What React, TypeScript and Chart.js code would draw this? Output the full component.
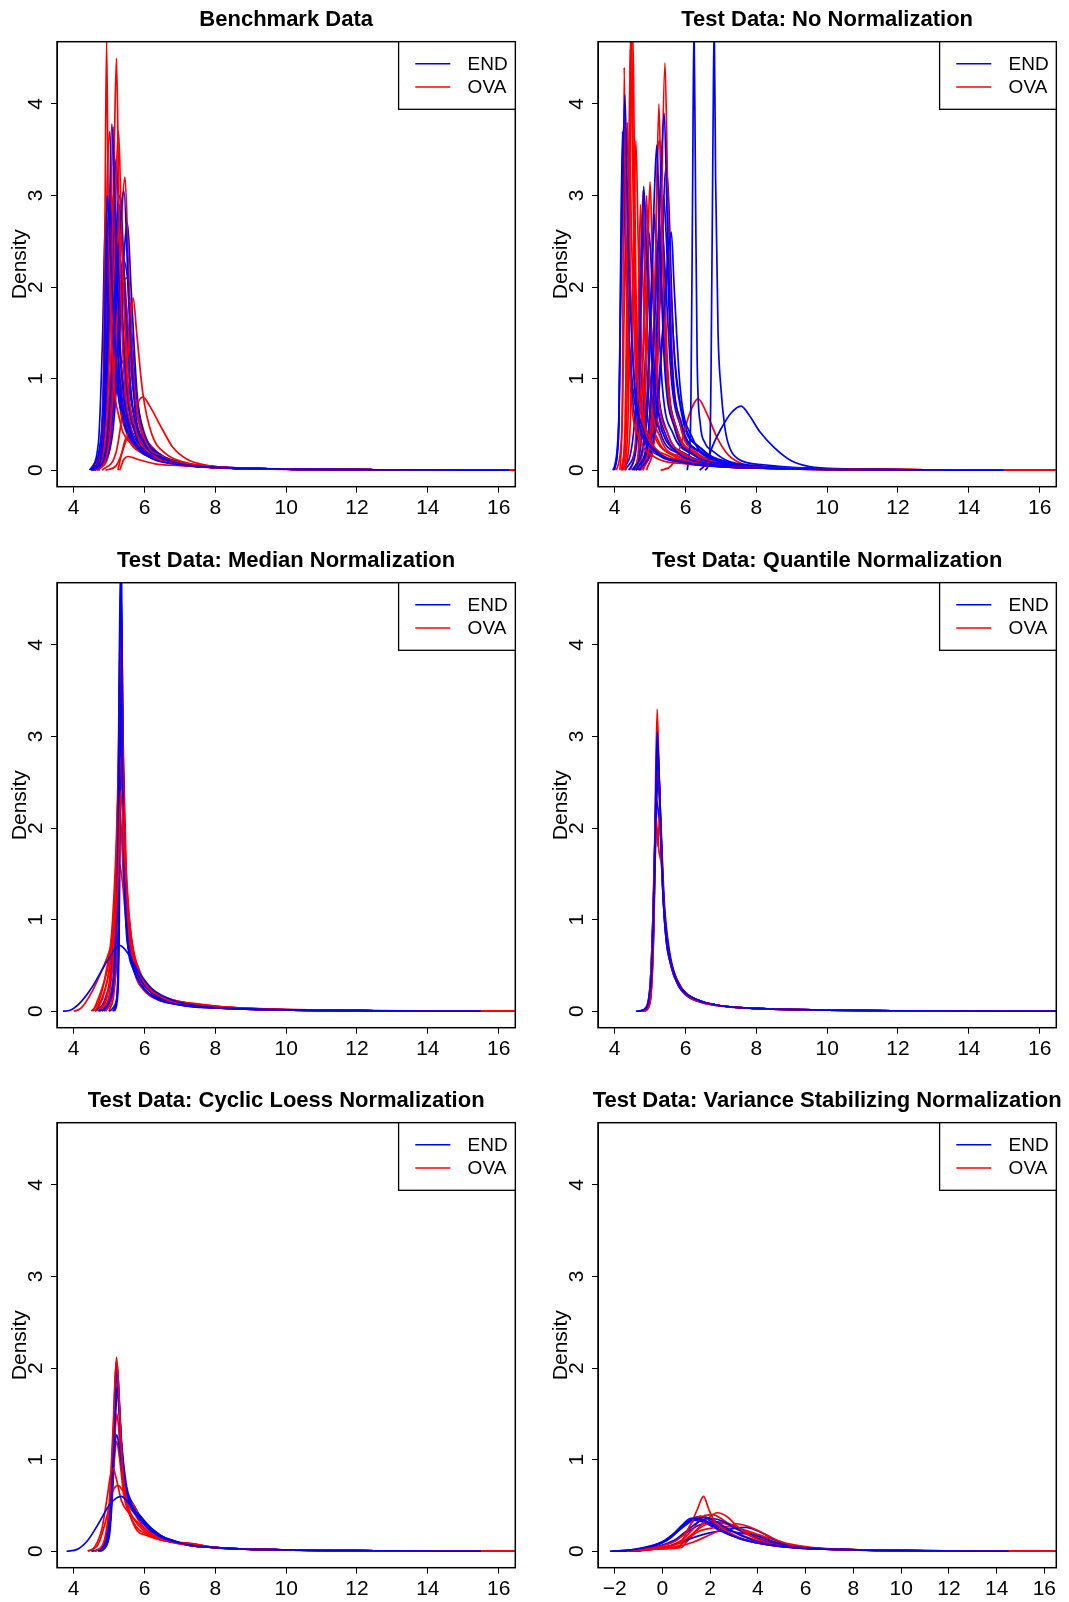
import React, { useEffect, useRef } from "react";
import { Chart, registerables } from "chart.js";

Chart.register(...registerables);

type Pt = [number, number];

const FONT = '"Liberation Sans", Arial, Helvetica, sans-serif';

// ---------- labels / ticks ----------
const groupNames = ["END", "OVA"];
const groupColors = ["#0000FF", "#FF0000"];
const panelTitles = [
  "Benchmark Data",
  "Test Data: No Normalization",
  "Test Data: Median Normalization",
  "Test Data: Quantile Normalization",
  "Test Data: Cyclic Loess Normalization",
  "Test Data: Variance Stabilizing Normalization",
];
const yLabel = "Density";
const yTicks = [0, 1, 2, 3, 4];
const yRange = [-0.18, 4.68];
const xTicksMain = [4, 6, 8, 10, 12, 14, 16];
const xTicksVsn = [-2, 0, 2, 4, 6, 8, 10, 12, 14, 16];
const xRangeMain = [3.53, 16.47];
const xRangeVsn = [-2.7, 16.5];

// ---------- density curves ([x, density] points) ----------
const benchEnd: Pt[][] = [
  [[4.5,0],[4.75,0.1],[4.85,0.9],[4.95,3.0],[5.05,2.3],[5.2,1.2],[5.4,0.6],[5.7,0.3],[6.2,0.13],[7,0.06],[8,0.03],[10,0.012],[12.5,0.005],[16.3,0]],
  [[4.55,0],[4.8,0.2],[4.95,1.4],[5.08,3.78],[5.2,2.4],[5.35,1.1],[5.6,0.45],[6,0.2],[7,0.07],[8,0.03],[10,0.012],[12.5,0.005],[16.3,0]],
  [[4.6,0],[4.9,0.2],[5.1,1.2],[5.3,2.6],[5.42,3.05],[5.55,1.9],[5.7,0.8],[6,0.3],[6.5,0.14],[7,0.07],[8,0.03],[10,0.012],[12.5,0.005],[16.3,0]],
  [[4.55,0],[4.85,0.3],[5.0,1.5],[5.15,2.6],[5.3,2.0],[5.5,0.85],[5.8,0.35],[6.3,0.15],[7,0.07],[8,0.03],[10,0.012],[12.5,0.005],[16.3,0]],
  [[4.5,0],[4.8,0.3],[4.92,2.0],[5.0,2.95],[5.1,2.4],[5.3,1.0],[5.6,0.42],[6,0.2],[7,0.07],[8,0.03],[10,0.012],[12.5,0.005],[16.3,0]],
  [[4.6,0],[4.9,0.25],[5.1,1.5],[5.25,2.9],[5.32,3.0],[5.45,1.9],[5.65,0.75],[6,0.28],[6.5,0.13],[7,0.07],[8,0.03],[10,0.012],[12.5,0.005],[16.3,0]],
  [[4.65,0],[5.0,0.35],[5.2,1.4],[5.4,2.3],[5.55,2.0],[5.75,0.9],[6,0.4],[6.5,0.16],[7,0.08],[8,0.035],[10,0.012],[12.5,0.005],[16.3,0]],
  [[4.5,0],[4.8,0.4],[5.0,1.6],[5.12,2.0],[5.3,1.3],[5.5,0.65],[5.8,0.3],[6.3,0.15],[7,0.07],[8,0.03],[10,0.012],[12.5,0.005],[16.3,0]],
  [[4.7,0],[5.0,0.3],[5.2,0.9],[5.35,1.2],[5.55,0.9],[5.8,0.45],[6.2,0.22],[7,0.08],[8,0.035],[10,0.012],[12.5,0.005],[16.3,0]],
  [[4.6,0],[4.9,0.5],[5.1,2.6],[5.2,3.4],[5.3,2.5],[5.45,1.1],[5.7,0.45],[6.1,0.2],[7,0.07],[8,0.03],[10,0.012],[12.5,0.005],[16.3,0]],
  [[4.45,0],[4.7,0.3],[4.82,1.5],[4.9,2.8],[5.0,2.4],[5.15,1.2],[5.4,0.55],[5.8,0.25],[6.5,0.11],[7,0.07],[8,0.03],[10,0.012],[12.5,0.005],[16.3,0]],
  [[4.7,0],[5.1,0.4],[5.3,1.5],[5.45,2.5],[5.52,2.7],[5.62,2.0],[5.8,0.8],[6.1,0.3],[6.6,0.14],[7.2,0.07],[8,0.035],[10,0.012],[12.5,0.005],[16.3,0]],
  [[4.55,0],[4.85,0.5],[4.97,2.2],[5.05,2.9],[5.15,2.0],[5.3,0.9],[5.55,0.4],[6,0.18],[7,0.07],[8,0.03],[10,0.012],[12.5,0.005],[16.3,0]],
  [[4.6,0],[4.95,0.4],[5.12,1.6],[5.25,2.3],[5.38,1.6],[5.55,0.8],[5.8,0.38],[6.3,0.16],[7,0.08],[8,0.035],[10,0.012],[12.5,0.005],[16.3,0]],
  [[4.65,0],[5.0,0.3],[5.2,1.2],[5.35,2.0],[5.48,1.8],[5.65,1.0],[5.9,0.45],[6.4,0.18],[7,0.09],[8,0.04],[10,0.012],[12.5,0.005],[16.3,0]],
  [[4.5,0],[4.78,0.4],[4.9,1.6],[5.0,2.4],[5.1,2.1],[5.25,1.1],[5.5,0.5],[5.9,0.22],[7,0.07],[8,0.03],[10,0.012],[12.5,0.005],[16.3,0]],
];
const benchOva: Pt[][] = [
  [[4.6,0],[4.82,0.4],[4.88,2.5],[4.93,4.7],[4.98,2.8],[5.1,1.2],[5.3,0.55],[5.6,0.3],[6,0.17],[7,0.06],[8,0.03],[10,0.012],[12.5,0.005],[16.45,0]],
  [[4.6,0],[4.9,0.4],[5.05,1.8],[5.15,3.6],[5.21,4.5],[5.28,2.8],[5.4,1.2],[5.6,0.5],[6,0.2],[7,0.07],[8,0.03],[10,0.012],[12.5,0.005],[16.45,0]],
  [[4.65,0],[4.95,0.4],[5.12,2.0],[5.27,3.7],[5.35,2.6],[5.5,1.1],[5.75,0.45],[6.2,0.18],[7,0.07],[8,0.03],[10,0.012],[12.5,0.005],[16.45,0]],
  [[4.7,0],[5.0,0.3],[5.25,1.8],[5.45,3.2],[5.55,2.2],[5.7,1.0],[6,0.35],[6.5,0.15],[7,0.08],[8,0.035],[10,0.012],[12.5,0.005],[16.45,0]],
  [[4.8,0],[5.2,0.2],[5.45,0.9],[5.6,1.6],[5.68,1.88],[5.78,1.5],[5.95,0.85],[6.2,0.4],[6.6,0.18],[7.2,0.08],[8,0.035],[10,0.012],[12.5,0.005],[16.45,0]],
  [[4.9,0],[5.2,0.05],[5.5,0.35],[5.75,0.68],[5.95,0.8],[6.15,0.7],[6.5,0.45],[6.8,0.25],[7.2,0.12],[7.8,0.05],[8.5,0.025],[10,0.012],[12.5,0.005],[16.45,0]],
  [[4.7,0],[4.95,0.3],[5.1,1.0],[5.2,1.4],[5.32,1.0],[5.5,0.5],[5.8,0.28],[6.5,0.12],[7,0.07],[8,0.03],[10,0.012],[12.5,0.005],[16.45,0]],
  [[5.25,0],[5.38,0.22],[5.48,0.35],[5.6,0.3],[5.9,0.2],[6.5,0.1],[7,0.06],[8,0.03],[10,0.012],[12.5,0.005],[16.45,0]],
  [[5.3,0],[5.42,0.12],[5.55,0.15],[5.8,0.12],[6.3,0.07],[7,0.05],[8,0.025],[10,0.01],[12.5,0.004],[16.45,0]],
  [[4.6,0],[4.9,0.6],[5.02,2.2],[5.12,3.75],[5.2,2.6],[5.35,1.1],[5.6,0.45],[6,0.2],[7,0.07],[8,0.03],[10,0.012],[12.5,0.005],[16.45,0]],
  [[4.55,0],[4.8,0.4],[4.92,1.8],[5.0,2.8],[5.1,2.2],[5.3,0.9],[5.6,0.38],[6,0.18],[7,0.07],[8,0.03],[10,0.012],[12.5,0.005],[16.45,0]],
  [[4.7,0],[5.0,0.4],[5.2,1.5],[5.33,2.5],[5.42,2.2],[5.6,1.2],[5.85,0.5],[6.3,0.2],[7,0.08],[8,0.035],[10,0.012],[12.5,0.005],[16.45,0]],
  [[4.6,0],[4.85,0.8],[4.95,3.2],[5.02,3.7],[5.1,2.0],[5.25,0.9],[5.5,0.4],[6,0.18],[7,0.07],[8,0.03],[10,0.012],[12.5,0.005],[16.45,0]],
  [[4.65,0],[4.95,0.3],[5.15,1.6],[5.3,2.9],[5.38,2.4],[5.52,1.2],[5.75,0.5],[6.2,0.2],[7,0.08],[8,0.035],[10,0.012],[12.5,0.005],[16.45,0]],
  [[4.6,0],[4.88,0.5],[5.0,2.0],[5.08,3.0],[5.17,2.3],[5.32,1.0],[5.6,0.42],[6,0.19],[7,0.07],[8,0.03],[10,0.012],[12.5,0.005],[16.45,0]],
  [[4.7,0],[5.0,0.2],[5.2,1.0],[5.4,2.0],[5.5,2.1],[5.62,1.4],[5.85,0.6],[6.3,0.22],[7,0.09],[8,0.04],[10,0.012],[12.5,0.005],[16.45,0]],
];

const rawEnd: Pt[][] = [
  [[3.95,0],[4.1,0.3],[4.2,2.5],[4.29,4.1],[4.38,2.5],[4.55,1.0],[4.8,0.45],[5.2,0.2],[6,0.08],[7,0.04],[8.5,0.02],[11,0.007],[15,0]],
  [[4.0,0],[4.12,0.5],[4.22,3.7],[4.3,2.6],[4.45,1.2],[4.7,0.5],[5.1,0.22],[6,0.09],[7,0.04],[8.5,0.02],[11,0.007],[15,0]],
  [[4.4,0],[4.65,0.4],[4.75,2.0],[4.82,3.1],[4.9,2.4],[5.05,1.2],[5.3,0.5],[5.7,0.22],[6.5,0.08],[7.5,0.04],[9,0.015],[12,0.005],[15,0]],
  [[4.5,0],[4.85,0.4],[5.0,1.6],[5.12,3.0],[5.19,3.55],[5.27,2.6],[5.4,1.2],[5.7,0.45],[6.2,0.18],[7,0.07],[8.5,0.025],[11,0.007],[15,0]],
  [[4.6,0],[4.95,0.4],[5.15,1.8],[5.3,3.2],[5.4,3.9],[5.48,2.8],[5.6,1.3],[5.9,0.5],[6.4,0.2],[7,0.09],[8.5,0.03],[11,0.008],[15,0]],
  [[4.7,0],[5.1,0.35],[5.35,1.5],[5.52,2.4],[5.6,2.6],[5.68,2.0],[5.85,0.9],[6.2,0.35],[6.7,0.14],[7.5,0.06],[9,0.02],[12,0.005],[15,0]],
  [[6.05,0],[6.15,0.6],[6.2,3.0],[6.24,4.9],[6.28,3.2],[6.33,1.2],[6.42,0.5],[6.55,0.3],[6.8,0.2],[7.2,0.1],[8,0.05],[9.5,0.02],[12,0.005],[15.5,0]],
  [[6.55,0],[6.68,0.15],[6.72,1.0],[6.78,3.8],[6.81,4.9],[6.85,3.2],[6.92,1.5],[7.0,0.9],[7.1,0.5],[7.2,0.3],[7.5,0.12],[8.2,0.06],[9.5,0.02],[12,0.005],[15.5,0]],
  [[6.4,0],[6.6,0.08],[6.75,0.25],[7.0,0.45],[7.3,0.63],[7.57,0.7],[7.8,0.6],[8.1,0.42],[8.5,0.25],[9.0,0.1],[9.5,0.04],[10.5,0.015],[12.5,0.005],[15.5,0]],
  [[4.2,0],[4.5,0.3],[4.7,1.5],[4.78,2.8],[4.85,2.2],[5.0,1.0],[5.3,0.4],[5.8,0.18],[6.5,0.08],[7.5,0.04],[9,0.015],[12,0.005],[15,0]],
  [[4.55,0],[4.9,0.5],[5.05,2.0],[5.12,2.8],[5.2,2.0],[5.35,0.9],[5.65,0.4],[6.2,0.17],[7,0.07],[8.5,0.025],[11,0.007],[15,0]],
  [[4.6,0],[5.0,0.4],[5.2,1.6],[5.33,2.7],[5.42,2.2],[5.6,1.0],[5.9,0.45],[6.5,0.18],[7.2,0.08],[8.5,0.03],[11,0.008],[15,0]],
  [[3.98,0],[4.12,0.6],[4.2,3.0],[4.25,3.75],[4.33,2.0],[4.5,0.8],[4.8,0.35],[5.3,0.15],[6,0.08],[7,0.04],[8.5,0.02],[11,0.007],[15,0]],
  [[4.7,0],[5.1,0.5],[5.3,2.0],[5.45,3.3],[5.52,3.0],[5.65,1.5],[5.9,0.6],[6.4,0.25],[7,0.1],[8.5,0.03],[11,0.008],[15,0]],
  [[4.5,0],[4.75,0.3],[4.9,1.6],[4.97,2.6],[5.05,2.1],[5.2,1.0],[5.5,0.4],[6,0.18],[7,0.07],[8.5,0.025],[11,0.007],[15,0]],
  [[4.6,0],[4.95,0.4],[5.1,1.5],[5.22,2.5],[5.3,2.2],[5.45,1.1],[5.75,0.45],[6.3,0.18],[7,0.08],[8.5,0.03],[11,0.008],[15,0]],
  [[4.65,0],[5.05,0.4],[5.25,1.7],[5.38,3.0],[5.45,2.6],[5.6,1.2],[5.85,0.5],[6.4,0.2],[7,0.09],[8.5,0.03],[11,0.008],[15,0]],
  [[4.3,0],[4.6,0.3],[4.82,1.4],[4.9,2.3],[4.98,1.9],[5.15,0.9],[5.45,0.38],[6,0.16],[7,0.07],[8.5,0.025],[11,0.007],[15,0]],
  [[4.7,0],[5.15,0.4],[5.38,1.6],[5.5,2.2],[5.56,2.1],[5.7,1.2],[5.95,0.55],[6.5,0.22],[7.2,0.09],[8.5,0.03],[11,0.008],[15,0]],
];
const rawOva: Pt[][] = [
  [[4.15,0],[4.22,0.8],[4.27,4.4],[4.32,2.5],[4.45,0.9],[4.7,0.35],[5.1,0.15],[6,0.07],[7,0.04],[8.5,0.02],[11,0.007],[16.45,0]],
  [[4.25,0],[4.35,0.8],[4.43,4.2],[4.47,4.9],[4.52,3.5],[4.62,1.3],[4.8,0.55],[5.2,0.22],[6,0.09],[7,0.04],[8.5,0.02],[11,0.007],[16.45,0]],
  [[4.3,0],[4.4,1.0],[4.48,4.9],[4.53,4.4],[4.6,2.0],[4.75,0.8],[5.0,0.35],[5.5,0.16],[6.5,0.07],[8,0.03],[11,0.007],[16.45,0]],
  [[4.2,0],[4.3,0.5],[4.4,3.0],[4.44,4.6],[4.5,3.6],[4.58,1.6],[4.75,0.6],[5.1,0.25],[6,0.09],[7,0.045],[8.5,0.02],[11,0.007],[16.45,0]],
  [[4.6,0],[4.7,0.5],[4.77,2.5],[4.8,3.05],[4.87,2.0],[5.0,0.9],[5.3,0.35],[5.8,0.15],[6.8,0.06],[8.5,0.025],[11,0.007],[16.45,0]],
  [[4.7,0],[4.85,0.6],[4.95,2.6],[5.0,3.15],[5.07,2.3],[5.2,1.0],[5.5,0.4],[6,0.17],[7,0.07],[8.5,0.025],[11,0.007],[16.45,0]],
  [[4.8,0],[5.0,0.4],[5.15,2.2],[5.25,4.0],[5.32,2.8],[5.45,1.2],[5.7,0.5],[6.2,0.2],[7,0.08],[8.5,0.03],[11,0.008],[16.45,0]],
  [[4.9,0],[5.15,0.5],[5.3,2.4],[5.42,4.45],[5.5,3.0],[5.62,1.3],[5.85,0.5],[6.3,0.2],[7,0.09],[8.5,0.03],[11,0.008],[16.45,0]],
  [[5.3,0],[5.6,0.05],[5.85,0.25],[6.1,0.6],[6.36,0.78],[6.6,0.62],[6.9,0.35],[7.2,0.17],[7.6,0.07],[8.2,0.03],[9.5,0.01],[12,0.003],[16.45,0]],
  [[4.05,0],[4.2,0.4],[4.3,2.5],[4.36,3.8],[4.42,2.5],[4.55,1.0],[4.8,0.4],[5.3,0.17],[6.2,0.08],[7.5,0.035],[9.5,0.012],[12.5,0.004],[16.45,0]],
  [[4.45,0],[4.6,0.4],[4.68,2.0],[4.73,2.9],[4.8,2.0],[4.95,0.8],[5.2,0.35],[5.8,0.15],[6.8,0.06],[8.5,0.025],[11,0.007],[16.45,0]],
  [[4.75,0],[5.0,0.5],[5.15,2.2],[5.22,3.5],[5.28,3.6],[5.36,2.4],[5.5,1.0],[5.8,0.4],[6.3,0.18],[7,0.08],[8.5,0.03],[11,0.008],[16.45,0]],
  [[4.3,0],[4.45,0.6],[4.55,2.8],[4.6,3.6],[4.67,2.4],[4.8,1.0],[5.1,0.4],[5.6,0.17],[6.5,0.07],[8,0.03],[11,0.007],[16.45,0]],
  [[4.2,0],[4.3,0.5],[4.38,2.8],[4.42,3.6],[4.48,2.5],[4.6,1.0],[4.8,0.45],[5.2,0.2],[6,0.08],[7.5,0.035],[10,0.01],[16.45,0]],
  [[4.55,0],[4.75,0.5],[4.85,2.2],[4.9,3.0],[4.97,2.1],[5.1,0.9],[5.4,0.38],[6,0.16],[7,0.07],[8.5,0.025],[11,0.007],[16.45,0]],
  [[4.8,0],[5.05,0.4],[5.2,1.8],[5.3,3.1],[5.37,2.5],[5.5,1.1],[5.75,0.45],[6.3,0.18],[7,0.08],[8.5,0.03],[11,0.008],[16.45,0]],
];

const medianEnd: Pt[][] = [
  [[3.7,0],[3.9,0.01],[4.2,0.1],[4.5,0.25],[4.8,0.45],[5.0,0.58],[5.3,0.72],[5.5,0.65],[5.8,0.45],[6.2,0.25],[6.8,0.12],[7.5,0.06],[9,0.025],[12,0.007],[15.5,0]],
  [[4.7,0],[5.0,0.1],[5.15,0.5],[5.25,1.8],[5.32,4.9],[5.38,2.5],[5.5,0.9],[5.7,0.5],[6,0.28],[6.5,0.14],[7,0.08],[8,0.04],[10,0.015],[12.5,0.005],[15.5,0]],
  [[5.0,0],[5.2,0.1],[5.27,0.8],[5.33,4.9],[5.37,3.0],[5.45,1.2],[5.6,0.6],[5.9,0.3],[6.5,0.12],[7,0.07],[8,0.035],[10,0.015],[12.5,0.005],[15.5,0]],
  [[4.8,0],[5.1,0.3],[5.25,1.5],[5.33,3.5],[5.4,2.0],[5.55,0.8],[5.8,0.42],[6.2,0.2],[7,0.08],[8,0.04],[10,0.015],[12.5,0.005],[15.5,0]],
  [[4.6,0],[4.9,0.15],[5.1,0.6],[5.25,2.0],[5.34,4.3],[5.4,2.6],[5.5,1.2],[5.75,0.5],[6.2,0.22],[7,0.09],[8,0.04],[10,0.015],[12.5,0.005],[15.5,0]],
  [[5.15,0],[5.25,0.2],[5.3,1.5],[5.35,4.9],[5.39,2.5],[5.5,0.9],[5.7,0.45],[6.1,0.2],[7,0.07],[8,0.035],[10,0.015],[12.5,0.005],[15.5,0]],
  [[4.9,0],[5.15,0.4],[5.28,2.2],[5.34,3.2],[5.42,2.0],[5.6,0.75],[5.9,0.35],[6.5,0.15],[7.5,0.06],[8.5,0.035],[10,0.015],[12.5,0.005],[15.5,0]],
  [[5.1,0],[5.2,0.1],[5.28,1.0],[5.34,4.6],[5.39,3.0],[5.48,1.1],[5.7,0.5],[6.0,0.28],[6.6,0.13],[7.5,0.06],[9,0.025],[12.5,0.005],[15.5,0]],
  [[4.85,0],[5.1,0.2],[5.26,1.2],[5.33,4.0],[5.39,2.6],[5.5,1.0],[5.72,0.5],[6.1,0.24],[7,0.08],[8,0.04],[10,0.015],[12.5,0.005],[15.5,0]],
];
const medianOva: Pt[][] = [
  [[4.0,0],[4.2,0.03],[4.5,0.2],[4.8,0.45],[5.0,0.65],[5.15,0.9],[5.27,1.6],[5.33,2.4],[5.42,1.8],[5.6,0.9],[5.9,0.4],[6.5,0.15],[7.5,0.07],[9,0.03],[12,0.008],[16.45,0]],
  [[4.5,0],[4.7,0.1],[4.9,0.4],[5.1,1.0],[5.25,2.5],[5.32,4.3],[5.38,2.8],[5.5,1.2],[5.75,0.5],[6.2,0.22],[7,0.09],[8,0.04],[10,0.015],[12.5,0.005],[16.45,0]],
  [[4.6,0],[4.85,0.2],[5.05,0.6],[5.2,1.6],[5.3,2.8],[5.37,2.4],[5.5,1.3],[5.7,0.6],[6.0,0.3],[6.5,0.15],[7.5,0.07],[8.5,0.04],[10,0.015],[12.5,0.005],[16.45,0]],
  [[4.7,0],[4.95,0.2],[5.15,0.9],[5.28,3.0],[5.33,4.5],[5.38,3.0],[5.48,1.3],[5.7,0.55],[6.1,0.25],[6.5,0.16],[7.5,0.07],[8.5,0.04],[10,0.015],[12.5,0.005],[16.45,0]],
  [[4.8,0],[5.05,0.3],[5.2,1.2],[5.3,2.6],[5.36,2.7],[5.45,1.8],[5.6,0.9],[5.9,0.4],[6.5,0.14],[7.6,0.07],[8.3,0.04],[10,0.015],[12.5,0.005],[16.45,0]],
  [[4.9,0],[5.1,0.2],[5.22,0.9],[5.3,1.6],[5.38,1.4],[5.5,0.9],[5.7,0.5],[6.0,0.28],[6.5,0.15],[7.5,0.08],[8.5,0.04],[10,0.015],[12.5,0.005],[16.45,0]],
  [[5.0,0],[5.18,0.4],[5.27,2.0],[5.33,3.8],[5.4,2.5],[5.5,1.0],[5.7,0.45],[6.0,0.22],[6.5,0.11],[7,0.07],[8,0.035],[10,0.015],[12.5,0.005],[16.45,0]],
  [[4.55,0],[4.8,0.25],[5.0,0.55],[5.15,1.1],[5.25,1.9],[5.31,2.2],[5.4,1.5],[5.55,0.85],[5.8,0.45],[6.3,0.2],[7,0.09],[8,0.04],[10,0.015],[12.5,0.005],[16.45,0]],
  [[4.65,0],[4.9,0.25],[5.1,0.8],[5.24,2.0],[5.32,3.4],[5.39,2.4],[5.5,1.1],[5.72,0.55],[6.1,0.26],[7,0.09],[8,0.045],[10,0.015],[12.5,0.005],[16.45,0]],
  [[4.75,0],[5.0,0.3],[5.17,1.3],[5.28,2.9],[5.34,4.6],[5.4,2.9],[5.5,1.3],[5.7,0.6],[6.1,0.27],[6.6,0.15],[7.6,0.07],[10,0.015],[12.5,0.005],[16.45,0]],
];

const quantileEnd: Pt[][] = [
  [[4.6,0],[4.85,0.02],[4.95,0.1],[5.05,0.5],[5.13,1.6],[5.2,3.05],[5.27,2.4],[5.35,1.4],[5.45,0.8],[5.6,0.5],[5.8,0.3],[6.0,0.2],[6.5,0.1],[7,0.06],[8,0.03],[10,0.012],[12,0.005],[16.5,0]],
  [[4.7,0],[4.9,0.05],[5.02,0.4],[5.12,1.5],[5.2,2.7],[5.26,2.5],[5.35,1.5],[5.45,0.85],[5.6,0.5],[5.8,0.28],[6.0,0.19],[6.5,0.1],[7,0.06],[8,0.03],[10,0.012],[12,0.005],[16.5,0]],
  [[4.75,0],[4.95,0.08],[5.05,0.5],[5.15,2.0],[5.22,2.9],[5.3,2.0],[5.4,1.1],[5.55,0.6],[5.75,0.32],[6.0,0.18],[6.5,0.09],[7,0.055],[8,0.03],[10,0.012],[12,0.005],[16.5,0]],
  [[4.8,0],[4.98,0.1],[5.08,0.7],[5.16,1.9],[5.23,2.6],[5.3,2.1],[5.4,1.2],[5.55,0.65],[5.75,0.35],[6.0,0.2],[6.5,0.1],[7,0.06],[8,0.03],[10,0.012],[12,0.005],[16.5,0]],
  [[4.85,0],[5.0,0.1],[5.1,0.8],[5.18,2.3],[5.23,2.2],[5.3,1.9],[5.4,1.1],[5.5,0.7],[5.7,0.38],[6.0,0.2],[6.5,0.1],[7,0.06],[8,0.03],[10,0.012],[12,0.005],[16.5,0]],
  [[4.65,0],[4.9,0.04],[5.0,0.25],[5.1,1.2],[5.18,2.6],[5.23,2.8],[5.3,1.9],[5.42,0.95],[5.6,0.48],[5.8,0.29],[6.0,0.2],[6.5,0.1],[7,0.06],[8,0.03],[10,0.012],[12,0.005],[16.5,0]],
];
const quantileOva: Pt[][] = [
  [[4.75,0],[4.92,0.05],[5.02,0.4],[5.12,1.6],[5.2,3.3],[5.26,2.5],[5.35,1.4],[5.45,0.8],[5.6,0.5],[5.8,0.3],[6.0,0.2],[6.5,0.1],[7,0.06],[8,0.03],[10,0.012],[12,0.005],[16.4,0]],
  [[4.8,0],[4.95,0.08],[5.05,0.5],[5.12,1.7],[5.18,2.1],[5.22,1.8],[5.28,2.2],[5.35,1.4],[5.45,0.8],[5.6,0.48],[5.8,0.28],[6.0,0.18],[6.5,0.09],[7,0.06],[8,0.03],[10,0.012],[12,0.005],[16.4,0]],
  [[4.85,0],[5.0,0.1],[5.1,0.9],[5.17,2.4],[5.22,2.6],[5.3,2.0],[5.42,1.0],[5.6,0.5],[5.8,0.3],[6.0,0.2],[6.3,0.12],[6.5,0.1],[7,0.06],[8,0.03],[10,0.012],[12,0.005],[16.4,0]],
  [[4.8,0],[4.97,0.05],[5.07,0.5],[5.15,1.8],[5.2,2.0],[5.25,1.75],[5.32,1.6],[5.42,1.0],[5.6,0.52],[5.8,0.32],[6.0,0.2],[6.5,0.1],[7,0.06],[8,0.03],[10,0.012],[12,0.005],[16.4,0]],
  [[4.78,0],[4.95,0.06],[5.05,0.45],[5.14,1.9],[5.21,2.9],[5.28,2.2],[5.38,1.2],[5.5,0.7],[5.7,0.38],[6.0,0.2],[6.5,0.1],[7,0.06],[8,0.03],[10,0.012],[12,0.005],[16.4,0]],
];

const loessEnd: Pt[][] = [
  [[3.8,0],[4.1,0.02],[4.4,0.12],[4.7,0.3],[5.0,0.5],[5.2,0.58],[5.35,0.6],[5.5,0.55],[5.7,0.45],[6.0,0.3],[6.4,0.17],[7,0.09],[8,0.04],[10,0.015],[12.5,0.005],[15.5,0]],
  [[4.5,0],[4.8,0.05],[5.0,0.4],[5.12,1.3],[5.2,2.07],[5.27,1.8],[5.36,1.0],[5.5,0.6],[5.7,0.45],[6.0,0.3],[6.5,0.15],[6.8,0.12],[7.2,0.07],[8,0.04],[10,0.015],[12.5,0.005],[15.5,0]],
  [[4.7,0],[4.9,0.05],[5.05,0.4],[5.14,1.3],[5.22,1.95],[5.3,1.5],[5.42,0.8],[5.6,0.5],[5.8,0.38],[6.1,0.25],[6.6,0.13],[7.2,0.07],[8,0.04],[10,0.015],[12.5,0.005],[15.5,0]],
  [[4.6,0],[4.9,0.1],[5.05,0.5],[5.15,1.1],[5.22,1.27],[5.3,1.1],[5.45,0.7],[5.65,0.5],[5.9,0.35],[6.2,0.22],[6.7,0.13],[7.2,0.07],[8,0.04],[10,0.015],[12.5,0.005],[15.5,0]],
  [[4.7,0],[4.95,0.1],[5.08,0.6],[5.17,1.5],[5.23,1.8],[5.3,1.4],[5.45,0.75],[5.62,0.5],[5.85,0.4],[6.2,0.25],[6.7,0.12],[7.2,0.07],[8,0.04],[10,0.015],[12.5,0.005],[15.5,0]],
  [[4.75,0],[5.0,0.15],[5.12,0.8],[5.2,1.6],[5.26,1.7],[5.35,1.2],[5.5,0.7],[5.7,0.5],[6.0,0.32],[6.5,0.16],[7,0.09],[8,0.04],[10,0.015],[12.5,0.005],[15.5,0]],
];
const loessOva: Pt[][] = [
  [[4.6,0],[4.85,0.1],[5.0,0.5],[5.12,1.4],[5.21,2.12],[5.28,1.7],[5.38,0.9],[5.5,0.55],[5.7,0.35],[6.0,0.22],[6.5,0.12],[7.3,0.07],[8,0.04],[10,0.015],[12.5,0.005],[16.45,0]],
  [[4.4,0],[4.6,0.05],[4.8,0.25],[4.95,0.6],[5.05,0.85],[5.12,0.9],[5.2,0.8],[5.35,0.55],[5.6,0.4],[5.9,0.28],[6.3,0.16],[7,0.08],[8,0.04],[10,0.015],[12.5,0.005],[16.45,0]],
  [[4.4,0],[4.7,0.08],[4.95,0.4],[5.1,0.65],[5.25,0.72],[5.4,0.65],[5.55,0.5],[5.7,0.42],[6.0,0.25],[6.5,0.14],[7.3,0.07],[8,0.04],[10,0.015],[12.5,0.005],[16.45,0]],
  [[4.7,0],[4.9,0.1],[5.05,0.5],[5.15,1.0],[5.21,1.2],[5.3,1.0],[5.42,0.6],[5.6,0.38],[5.8,0.22],[6.0,0.18],[6.5,0.12],[7.4,0.08],[8,0.04],[10,0.015],[12.5,0.005],[16.45,0]],
  [[4.75,0],[4.95,0.15],[5.08,0.7],[5.17,1.3],[5.22,1.5],[5.3,1.2],[5.42,0.7],[5.58,0.55],[5.7,0.5],[6.0,0.28],[6.5,0.13],[7.3,0.08],[8,0.04],[10,0.015],[12.5,0.005],[16.45,0]],
  [[4.8,0],[5.0,0.2],[5.1,0.8],[5.18,1.8],[5.23,2.05],[5.3,1.5],[5.4,0.8],[5.55,0.45],[5.8,0.25],[6.0,0.2],[6.5,0.12],[7.4,0.08],[8,0.04],[10,0.015],[12.5,0.005],[16.45,0]],
];

const vsnEnd: Pt[][] = [
  [[-2.2,0],[-1.5,0.01],[-0.8,0.04],[-0.2,0.08],[0.3,0.15],[0.8,0.28],[1.2,0.36],[1.6,0.35],[2.0,0.3],[2.5,0.22],[3.0,0.16],[4.0,0.09],[5.0,0.05],[6.5,0.025],[8.5,0.012],[11,0.004],[14.5,0]],
  [[-2.0,0],[-1.2,0.01],[-0.5,0.05],[0.2,0.12],[0.8,0.25],[1.3,0.34],[1.8,0.37],[2.2,0.33],[2.7,0.25],[3.3,0.17],[4.2,0.09],[5.2,0.05],[6.5,0.025],[8.5,0.012],[11,0.004],[14.5,0]],
  [[-1.8,0],[-1.0,0.01],[-0.3,0.04],[0.4,0.1],[1.0,0.22],[1.5,0.32],[2.0,0.36],[2.5,0.33],[3.0,0.26],[3.6,0.18],[4.4,0.1],[5.3,0.05],[6.8,0.025],[8.5,0.012],[11,0.004],[15.8,0]],
  [[-2.1,0],[-1.3,0.01],[-0.6,0.04],[0.0,0.1],[0.6,0.22],[1.1,0.33],[1.5,0.35],[2.0,0.31],[2.6,0.24],[3.2,0.2],[3.8,0.18],[4.5,0.12],[5.2,0.06],[6.5,0.03],[8.5,0.012],[11,0.004],[15.8,0]],
  [[-1.6,0],[-0.8,0.01],[0,0.04],[0.6,0.08],[1.2,0.14],[1.8,0.19],[2.4,0.22],[3.0,0.25],[3.5,0.26],[4.0,0.22],[4.6,0.14],[5.2,0.07],[6.2,0.03],[8,0.014],[11,0.004],[15.8,0]],
  [[-1.9,0],[-1.0,0.02],[-0.3,0.06],[0.3,0.14],[0.8,0.26],[1.2,0.35],[1.6,0.38],[2.0,0.33],[2.6,0.22],[3.2,0.14],[4.0,0.09],[5.0,0.05],[6.5,0.025],[8.5,0.012],[11,0.004],[14.5,0]],
  [[-1.7,0],[-0.9,0.01],[-0.2,0.05],[0.5,0.12],[1.0,0.2],[1.5,0.28],[2.2,0.32],[2.8,0.3],[3.4,0.22],[4.0,0.14],[4.8,0.08],[5.6,0.045],[7,0.022],[9,0.01],[11.5,0.003],[15.8,0]],
  [[-2.0,0],[-1.1,0.02],[-0.4,0.06],[0.2,0.13],[0.7,0.24],[1.0,0.31],[1.3,0.34],[1.7,0.32],[2.3,0.24],[3.0,0.16],[3.8,0.1],[4.8,0.06],[6.2,0.03],[8.5,0.012],[11,0.004],[14.5,0]],
];
const vsnOva: Pt[][] = [
  [[-1.5,0],[-0.8,0.02],[0,0.06],[0.6,0.12],[1.1,0.25],[1.45,0.45],[1.72,0.6],[1.95,0.45],[2.2,0.32],[2.7,0.22],[3.3,0.14],[4.2,0.08],[5.2,0.045],[7,0.02],[9,0.01],[12,0.003],[16.5,0]],
  [[-1.5,0],[-0.6,0.02],[0.2,0.05],[0.8,0.1],[1.3,0.2],[1.8,0.33],[2.3,0.42],[2.7,0.38],[3.1,0.28],[3.6,0.18],[4.3,0.1],[5.2,0.05],[7,0.022],[9,0.01],[12,0.003],[16.5,0]],
  [[-1.4,0],[-0.5,0.02],[0.3,0.04],[0.8,0.06],[1.3,0.1],[1.9,0.17],[2.5,0.24],[3.1,0.3],[3.6,0.27],[4.2,0.2],[4.8,0.12],[5.5,0.06],[6.5,0.03],[8.5,0.012],[12,0.003],[16.5,0]],
  [[-1.5,0],[-0.5,0.02],[0.3,0.03],[0.7,0.05],[0.9,0.15],[1.2,0.3],[1.6,0.38],[2.0,0.35],[2.5,0.27],[3.1,0.2],[3.8,0.13],[4.6,0.08],[5.5,0.045],[7,0.022],[9,0.01],[12,0.003],[16.5,0]],
  [[-1.5,0],[-0.7,0.02],[0.1,0.04],[0.7,0.06],[1.0,0.12],[1.4,0.22],[1.9,0.3],[2.4,0.31],[3.0,0.27],[3.6,0.2],[4.3,0.13],[5.0,0.08],[6,0.04],[8,0.015],[11,0.004],[16.5,0]],
  [[-1.5,0],[-0.6,0.02],[0.2,0.05],[0.8,0.12],[1.3,0.25],[1.7,0.38],[2.1,0.4],[2.5,0.35],[3.0,0.26],[3.6,0.18],[4.4,0.1],[5.3,0.05],[7,0.022],[9,0.01],[12,0.003],[16.5,0]],
  [[-1.3,0],[-0.4,0.02],[0.4,0.03],[0.8,0.04],[1.0,0.1],[1.4,0.2],[2.0,0.25],[2.6,0.27],[3.2,0.25],[3.8,0.2],[4.5,0.14],[5.3,0.08],[6.3,0.04],[8,0.018],[11,0.005],[16.5,0]],
];

// ---------- layout ----------
const PAGE_W = 1069;
const PAGE_H = 1602;
const COL_LEFT = [0, 541];
const ROW_TOP = [0, 541, 1081];
const CANVAS_H = 520;
const BOX_LEFT = 57;
const BOX_TOP = 41.7;
const BOX_W = 458.3;
const BOX_H = 445;
const X_AXIS_H = 28;

const panels = [
  { title: panelTitles[0], end: benchEnd, ova: benchOva, xr: xRangeMain, xt: xTicksMain },
  { title: panelTitles[1], end: rawEnd, ova: rawOva, xr: xRangeMain, xt: xTicksMain },
  { title: panelTitles[2], end: medianEnd, ova: medianOva, xr: xRangeMain, xt: xTicksMain },
  { title: panelTitles[3], end: quantileEnd, ova: quantileOva, xr: xRangeMain, xt: xTicksMain },
  { title: panelTitles[4], end: loessEnd, ova: loessOva, xr: xRangeMain, xt: xTicksMain },
  { title: panelTitles[5], end: vsnEnd, ova: vsnOva, xr: xRangeVsn, xt: xTicksVsn },
];

function fmt(v: number): string {
  return v < 0 ? "\u2212" + String(Math.abs(v)) : String(v);
}

function Panel({ index }: { index: number }) {
  const ref = useRef<HTMLCanvasElement | null>(null);
  const p = panels[index];
  const col = index % 2;
  const row = Math.floor(index / 2);
  const W = col === 0 ? 541 : PAGE_W - COL_LEFT[1] - 1;
  const H = CANVAS_H;

  useEffect(() => {
    const canvas = ref.current;
    if (!canvas) return;
    const datasets: any[] = [];
    const n = Math.max(p.end.length, p.ova.length);
    for (let i = 0; i < n; i++) {
      if (p.end[i]) {
        datasets.push({
          label: groupNames[0],
          data: p.end[i].map(([x, y]) => ({ x, y })),
          borderColor: groupColors[0],
          borderWidth: 1.7,
          pointRadius: 0,
          fill: false,
          cubicInterpolationMode: "monotone",
        });
      }
      if (p.ova[i]) {
        datasets.push({
          label: groupNames[1],
          data: p.ova[i].map(([x, y]) => ({ x, y })),
          borderColor: groupColors[1],
          borderWidth: 1.7,
          pointRadius: 0,
          fill: false,
          cubicInterpolationMode: "monotone",
        });
      }
    }

    const framePlugin = {
      id: "frame" + index,
      afterDraw(chart: any) {
        const { ctx, chartArea: a } = chart;
        ctx.save();
        ctx.strokeStyle = "#000";
        ctx.lineWidth = 1.5;
        ctx.strokeRect(a.left, a.top, a.right - a.left, a.bottom - a.top);
        ctx.fillStyle = "#000";
        ctx.font = `bold 22px ${FONT}`;
        ctx.textAlign = "center";
        ctx.textBaseline = "alphabetic";
        ctx.fillText(p.title, (a.left + a.right) / 2, a.top - 15.3);
        const lx = a.left + 341.6;
        const lw = a.right - lx;
        const lh = 67.6;
        ctx.fillStyle = "#fff";
        ctx.fillRect(lx, a.top, lw, lh);
        ctx.strokeStyle = "#000";
        ctx.lineWidth = 1.3;
        ctx.strokeRect(lx, a.top, lw, lh);
        const rowsY = [22, 45.3];
        groupNames.forEach((name, gi) => {
          const y = a.top + rowsY[gi];
          ctx.strokeStyle = groupColors[gi];
          ctx.lineWidth = 1.5;
          ctx.beginPath();
          ctx.moveTo(a.left + 358.3, y);
          ctx.lineTo(a.left + 393.3, y);
          ctx.stroke();
          ctx.fillStyle = "#000";
          ctx.font = `19px ${FONT}`;
          ctx.textAlign = "left";
          ctx.textBaseline = "middle";
          ctx.fillText(name, a.left + 410.6, y + 1);
        });
        ctx.restore();
      },
    };

    const chart = new Chart(canvas, {
      type: "line",
      data: { datasets },
      options: {
        animation: false,
        responsive: false,
        devicePixelRatio: 1,
        events: [],
        layout: {
          padding: {
            left: 0,
            top: BOX_TOP,
            right: W - BOX_LEFT - BOX_W,
            bottom: H - BOX_TOP - BOX_H - X_AXIS_H,
          },
        },
        plugins: {
          legend: { display: false },
          title: { display: false },
          tooltip: { enabled: false },
        },
        scales: {
          x: {
            type: "linear",
            position: "bottom",
            min: p.xr[0],
            max: p.xr[1],
            afterBuildTicks: (s: any) => {
              s.ticks = p.xt.map((v) => ({ value: v }));
            },
            afterFit: (s: any) => {
              s.height = X_AXIS_H;
            },
            ticks: {
              autoSkip: false,
              maxRotation: 0,
              minRotation: 0,
              padding: 3,
              color: "#000",
              font: { family: FONT, size: 21, lineHeight: 1.2 },
              callback: (v: any) => fmt(Number(v)),
            },
            grid: {
              drawOnChartArea: false,
              drawTicks: true,
              tickLength: 6,
              color: "#000",
              lineWidth: 1,
            },
            border: { display: true, color: "#000", width: 1 },
          },
          y: {
            type: "linear",
            position: "left",
            min: yRange[0],
            max: yRange[1],
            afterBuildTicks: (s: any) => {
              s.ticks = yTicks.map((v) => ({ value: v }));
            },
            afterFit: (s: any) => {
              s.width = BOX_LEFT;
            },
            ticks: {
              autoSkip: false,
              minRotation: 90,
              maxRotation: 90,
              crossAlign: "center",
              padding: 9,
              color: "#000",
              font: { family: FONT, size: 21, lineHeight: 1.2 },
              callback: (v: any) => fmt(Number(v)),
            },
            grid: {
              drawOnChartArea: false,
              drawTicks: true,
              tickLength: 6,
              color: "#000",
              lineWidth: 1,
            },
            border: { display: true, color: "#000", width: 1 },
            title: {
              display: true,
              text: yLabel,
              color: "#000",
              font: { family: FONT, size: 21, lineHeight: 1.2 },
              padding: { top: 8, bottom: 0 },
            },
          },
        },
      } as any,
      plugins: [framePlugin],
    });
    return () => chart.destroy();
  }, [index]);

  return (
    <canvas
      ref={ref}
      width={W}
      height={H}
      style={{
        position: "absolute",
        left: COL_LEFT[col],
        top: ROW_TOP[row],
        width: W,
        height: H,
      }}
    />
  );
}

export default function App() {
  return (
    <div
      style={{
        position: "absolute",
        left: 0,
        top: 0,
        width: PAGE_W,
        height: PAGE_H,
        background: "#fff",
        overflow: "hidden",
      }}
    >
      {panels.map((_, i) => (
        <Panel key={i} index={i} />
      ))}
    </div>
  );
}
